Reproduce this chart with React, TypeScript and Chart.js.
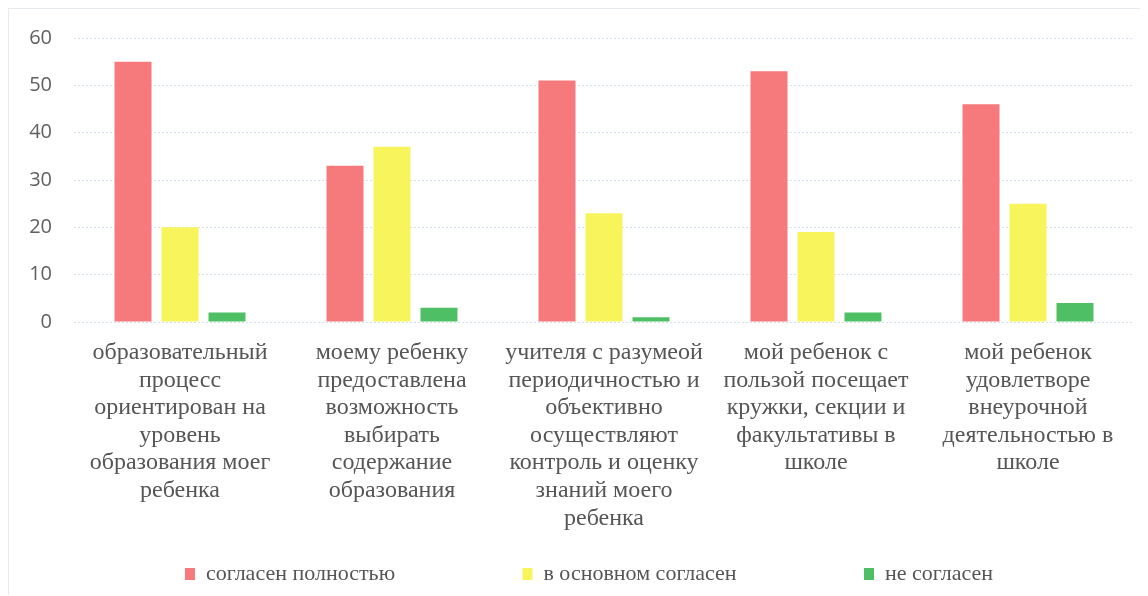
import React, { useEffect, useRef } from "react";
import { Chart, registerables } from "chart.js";

Chart.register(...registerables);

const categories: string[][] = [
  ["образовательный", "процесс", "ориентирован на", "уровень", "образования моег", "ребенка"],
  ["моему ребенку", "предоставлена", "возможность", "выбирать", "содержание", "образования"],
  ["учителя с разумеой", "периодичностью и", "объективно", "осуществляют", "контроль и оценку", "знаний моего", "ребенка"],
  ["мой ребенок с", "пользой посещает", "кружки, секции и", "факультативы в", "школе"],
  ["мой ребенок", "удовлетворе", "внеурочной", "деятельностью в", "школе"],
];

const seriesNames = ["согласен полностью", "в основном согласен", "не согласен"];
const fullyAgree = [55, 33, 51, 53, 46];
const mostlyAgree = [20, 37, 23, 19, 25];
const disagree = [2, 3, 1, 2, 4];
const yTicks = [0, 10, 20, 30, 40, 50, 60];

const colors = ["#f6797b", "#f8f45c", "#4fbf66"];
const legendGap = "\u2003\u2003\u2003\u2003\u2003\u2002\u2009";
const serif = "'Liberation Serif', 'DejaVu Serif', serif";

const spacerAxis = (position: "left" | "right", width: number, weight: number) => ({
  position,
  weight,
  display: true,
  grid: { display: false, drawTicks: false },
  border: { display: false },
  ticks: { display: false },
  afterFit: (scale: any) => {
    scale.width = width;
  },
});

export default function App() {
  const ref = useRef<HTMLCanvasElement | null>(null);

  useEffect(() => {
    if (!ref.current) return;
    const values = [fullyAgree, mostlyAgree, disagree];
    const chart = new Chart(ref.current, {
      type: "bar",
      data: {
        labels: categories,
        datasets: seriesNames.map((name, i) => ({
          label: name,
          data: values[i],
          backgroundColor: colors[i],
          borderWidth: 0,
          barPercentage: 0.787,
          categoryPercentage: 0.665,
          yAxisID: "y",
        })),
      },
      options: {
        animation: false,
        responsive: true,
        maintainAspectRatio: false,
        layout: { padding: { top: 29, right: -14, bottom: 0, left: 15 } },
        plugins: {
          tooltip: { enabled: false },
          legend: {
            position: "bottom",
            labels: {
              boxWidth: 10,
              boxHeight: 12,
              padding: 2,
              color: "#555555",
              font: { family: serif, size: 22 },
              generateLabels: (c: any) =>
                c.data.datasets.map((ds: any, i: number) => ({
                  text: ds.label + (i < c.data.datasets.length - 1 ? legendGap : ""),
                  fillStyle: ds.backgroundColor,
                  strokeStyle: ds.backgroundColor,
                  lineWidth: 0,
                  hidden: false,
                  datasetIndex: i,
                  fontColor: "#555555",
                })),
            },
          },
        },
        scales: {
          x: {
            grid: { display: false, drawTicks: false },
            border: { display: false },
            ticks: {
              color: "#555555",
              padding: 17,
              maxRotation: 0,
              autoSkip: false,
              font: { family: serif, size: 24, lineHeight: 1.15 },
            },
            afterFit: (scale: any) => {
              scale.height = 239;
            },
          },
          y: {
            position: "left",
            weight: 1,
            min: 0,
            max: 60,
            afterBuildTicks: (scale: any) => {
              scale.ticks = yTicks.map((v) => ({ value: v }));
            },
            grid: { color: "#d3dfea", lineWidth: 1, drawTicks: false },
            border: { display: false, dash: [2, 2] },
            ticks: {
              color: "#606060",
              padding: 5,
              font: { family: "'Open Sans', sans-serif", size: 20 },
            },
            afterFit: (scale: any) => {
              scale.width = 33;
            },
          },
          yGap: spacerAxis("left", 17, 0),
          yRight: spacerAxis("right", 20, 0),
        },
      },
    });
    return () => chart.destroy();
  }, []);

  return (
    <div
      style={{
        position: "relative",
        width: 1132,
        height: 587,
        boxSizing: "border-box",
        borderTop: "1px solid #e6ebf0",
        borderLeft: "1px solid #e6ebf0",
        background: "#ffffff",
      }}
    >
      <canvas ref={ref} />
    </div>
  );
}
